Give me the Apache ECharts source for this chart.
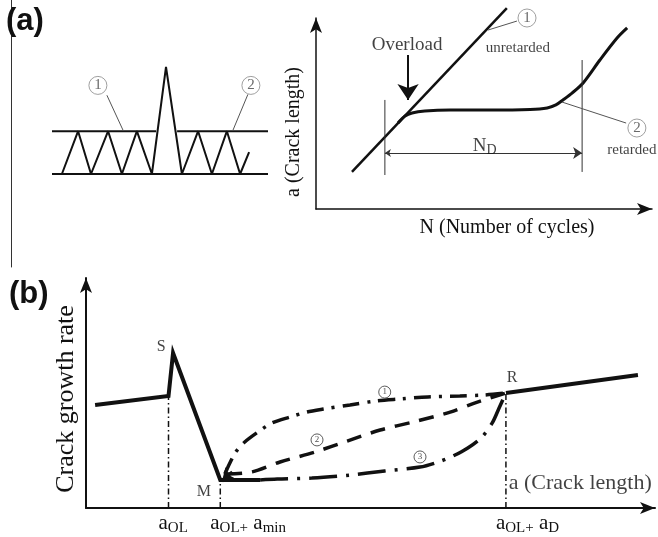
<!DOCTYPE html>
<html><head><meta charset="utf-8">
<script src="https://cdn.jsdelivr.net/npm/echarts@6/dist/echarts.min.js"></script>
<style>html,body{margin:0;padding:0;background:#fff}#c{width:658px;height:537px}</style>
</head><body><div id="c"></div>
<script>
// ================= DATA =================
// Panel (a) left: load sequence with a single overload (time in cycles, load level)
const loadTime  = [0.33, 0.87, 1.30, 1.87, 2.33, 2.83, 3.33, 3.80, 4.33, 4.87, 5.33, 5.83, 6.27, 6.57];
const loadLevel = [0,    1,    0,    1,    0,    1,    0,    2.5,  0,    1,    0,    1,    0,    0.51];
const loadSpan = [0, 7.2];
const upperLevelGap = [3.47, 4.17];   // upper reference line interrupted by overload spike

// Panel (a) right: crack length a vs N
const unretN = [1.07, 5.68];
const unretA = [1.94, 10.52];
const retN = [2.44, 2.65, 2.86, 3.24, 3.99, 5.18, 6.37, 6.88, 7.14, 7.35, 7.62, 7.95, 8.45, 8.96, 9.26];
const retA = [4.50, 4.87, 5.03, 5.13, 5.18, 5.18, 5.21, 5.29, 5.45, 5.71, 6.07, 6.60, 7.80, 8.95, 9.48];
const ndStartN = 2.05, ndEndN = 7.92, ndLevel = 2.93;
const ndMarkStart = [1.78, 5.71], ndMarkEnd = [1.94, 7.80];
const overloadN = 2.74, overloadFrom = 8.06, overloadTo = 5.71;

// Panel (b): crack growth rate vs crack length
const aOL = 1.45, aMin = 2.36, aD = 7.38;
const preX  = [0.16, aOL, 1.53, aMin, 3.06];
const preY  = [4.48, 4.87, 6.74, 1.22, 1.22];
const postX = [aD, 9.70];
const postY = [5.00, 5.78];
const c1X = [2.44, 2.62, 2.79, 3.02, 3.27, 3.59, 3.88, 4.17, 4.64, 5.08, 5.52, 6.01, 6.57, 6.98, aD];
const c1Y = [1.48, 2.39, 2.87, 3.30, 3.70, 3.96, 4.17, 4.30, 4.48, 4.65, 4.74, 4.83, 4.87, 4.91, 5.00];
const c2X = [2.48, 2.92, 3.41, 4.02, 4.59, 5.17, 5.75, 6.40, 6.84, aD];
const c2Y = [1.48, 1.57, 2.00, 2.43, 2.91, 3.39, 3.74, 4.17, 4.57, 5.00];
const c3X = [3.06, 3.36, 3.97, 4.64, 5.25, 5.87, 6.19, 6.45, 6.71, 6.96, 7.14, 7.26, aD];
const c3Y = [1.22, 1.26, 1.30, 1.43, 1.61, 1.78, 2.00, 2.26, 2.61, 3.09, 3.70, 4.35, 5.00];
const xTickValues = [aOL, aMin, aD];
const xTickLabels = ['a_OL', 'a_OL+ a_min', 'a_OL+ a_D'];

// ================= CHART =================
const SERIF = 'Liberation Serif';
const BLACK = '#111';
const chart = echarts.init(document.getElementById('c'));

function pts(xs, ys) { return xs.map((x, i) => [x, ys[i]]); }
function lineS(gi, data, style, extra) {
  return Object.assign({
    type: 'line', xAxisIndex: gi, yAxisIndex: gi, data: data, symbol: 'none',
    clip: false, silent: true, animation: false,
    lineStyle: Object.assign({ color: BLACK, width: 2, cap: 'butt' }, style)
  }, extra || {});
}
function arrowS(gi, from, to, style, symbol, size) {
  return {
    type: 'lines', coordinateSystem: 'cartesian2d', xAxisIndex: gi, yAxisIndex: gi,
    silent: true, animation: false, symbol: symbol, symbolSize: size,
    lineStyle: Object.assign({ color: BLACK, width: 1, opacity: 1 }, style),
    data: [{ coords: [from, to] }]
  };
}
function textS(gi, items, style) {
  return {
    type: 'scatter', xAxisIndex: gi, yAxisIndex: gi, silent: true, animation: false, clip: false,
    symbol: 'circle', symbolSize: 1, itemStyle: { color: 'rgba(0,0,0,0)' },
    label: Object.assign({ show: true, position: 'inside', color: BLACK, fontFamily: SERIF, fontSize: 15 }, style),
    data: items.map(it => ({ value: [it[0], it[1]], label: { formatter: it[2] } }))
  };
}
function circleS(gi, items, size, fs, border, color) {
  return {
    type: 'scatter', xAxisIndex: gi, yAxisIndex: gi, silent: true, animation: false, clip: false,
    symbol: 'circle', symbolSize: size, z: 5,
    itemStyle: { color: '#fff', borderColor: border, borderWidth: 1 },
    label: { show: true, position: 'inside', color: color, fontFamily: SERIF, fontSize: fs },
    data: items.map(it => ({ value: [it[0], it[1]], label: { formatter: it[2] } }))
  };
}
function tickRich(s) {
  return s.split(' ').map(part => {
    const [base, sub] = part.split('_');
    return base + (sub ? '{s|' + sub + '}' : '');
  }).join(' ');
}
const arrowAxis = (name) => ({
  show: true, symbol: ['none', 'arrow'], symbolSize: [9, 15],
  lineStyle: { color: BLACK, width: name === 'b' ? 2 : 1.5 }
});

const series = [
  // --- (a) left ---
  lineS(1, pts(loadTime, loadLevel), { width: 2 }),
  lineS(1, [[loadSpan[0], 1], [upperLevelGap[0], 1]], { width: 2 }),
  lineS(1, [[upperLevelGap[1], 1], [loadSpan[1], 1]], { width: 2 }),
  lineS(1, [[loadSpan[0], 0], [loadSpan[1], 0]], { width: 2 }),
  lineS(1, [[1.83, 1.84], [2.37, 1.02]], { width: 1, color: '#555' }),
  lineS(1, [[6.53, 1.86], [6.03, 1.02]], { width: 1, color: '#555' }),
  circleS(1, [[1.53, 2.07, '1'], [6.63, 2.07, '2']], 18, 15, '#888', '#444'),

  // --- (a) right ---
  lineS(2, pts(unretN, unretA), { width: 2.5 }),
  lineS(2, pts(retN, retA), { width: 3 }, { smooth: 0.3 }),
  lineS(2, [[ndStartN, ndMarkStart[0]], [ndStartN, ndMarkStart[1]]], { width: 1, color: '#333' }),
  lineS(2, [[ndEndN, ndMarkEnd[0]], [ndEndN, ndMarkEnd[1]]], { width: 1, color: '#333' }),
  arrowS(2, [ndStartN, ndLevel], [ndEndN, ndLevel], { width: 1, color: '#333' }, ['arrow', 'arrow'], [6, 9]),
  arrowS(2, [overloadN, overloadFrom], [overloadN, overloadTo], { width: 2 }, ['none', 'arrow'], [11, 16]),
  lineS(2, [[5.12, 9.37], [5.98, 9.84]], { width: 1, color: '#555' }),
  lineS(2, [[7.32, 5.60], [9.23, 4.50]], { width: 1, color: '#555' }),
  circleS(2, [[6.28, 10.0, '1'], [9.55, 4.24, '2']], 18, 15, '#888', '#444'),
  textS(2, [[2.71, 8.59, 'Overload']], { fontSize: 19 }),
  textS(2, [[6.01, 8.43, 'unretarded'], [9.40, 3.09, 'retarded']], { fontSize: 15 }),
  textS(2, [[5.02, 3.30, 'N{s|D}']], { fontSize: 19, rich: { s: { fontSize: 14, fontFamily: SERIF, padding: [9, 0, 0, 0] } } }),

  // --- (b) ---
  lineS(3, [[aOL, 0], [aOL, 4.87]], { width: 1.5, type: [6, 3, 1.5, 3] }),
  lineS(3, [[aMin, 0], [aMin, 1.22]], { width: 1.5, type: [6, 3, 1.5, 3] }),
  lineS(3, [[aD, 0], [aD, 5.0]], { width: 1.5, type: [6, 3, 1.5, 3] }),
  lineS(3, pts(preX, preY), { width: 4, join: 'miter' }),
  lineS(3, pts(postX, postY), { width: 4 }),
  lineS(3, pts(c1X, c1Y), { width: 3.5, type: [17, 8, 3, 8] }, { smooth: 0.3 }),
  lineS(3, pts(c2X, c2Y), { width: 3.5, type: [15, 10] }, { smooth: 0.3 }),
  lineS(3, pts(c3X, c3Y), { width: 3.5, type: [28, 9, 3, 9] }, { smooth: 0.3 }),
  arrowS(3, [2.57, 1.57], [2.39, 1.17], { width: 3 }, ['none', 'arrow'], [10, 12]),
  textS(3, [[1.32, 7.0, 'S'], [2.07, 0.70, 'M'], [7.49, 5.65, 'R']], { fontSize: 16 }),
  textS(3, [[7.43, 1.09, 'a (Crack length)']], { fontSize: 22, align: 'left' }),
  circleS(3, [[5.25, 5.04, '1'], [4.06, 2.96, '2'], [5.87, 2.22, '3']], 12, 9, '#333', '#222')
];

const option = {
  animation: false,
  backgroundColor: '#fff',
  title: [
    { text: '(a)', left: 1, top: 1, textStyle: { fontSize: 31, fontWeight: 'bold', fontFamily: 'Liberation Sans', color: BLACK } },
    { text: '(b)', left: 4, top: 274, textStyle: { fontSize: 31, fontWeight: 'bold', fontFamily: 'Liberation Sans', color: BLACK } }
  ],
  grid: [
    { left: 11, top: 0, width: 1, height: 267 },
    { left: 52, top: 67, width: 216, height: 107 },
    { left: 316, top: 18, width: 336, height: 191 },
    { left: 86, top: 278, width: 569, height: 230 }
  ],
  xAxis: [
    { gridIndex: 0, type: 'value', show: false, min: 0, max: 1 },
    { gridIndex: 1, type: 'value', show: false, min: 0, max: 7.2 },
    { gridIndex: 2, type: 'value', min: 0, max: 10, axisLine: arrowAxis('a'),
      axisTick: { show: false }, axisLabel: { show: false }, splitLine: { show: false },
      name: 'N (Number of cycles)', nameLocation: 'middle', nameGap: 9,
      nameTextStyle: { fontFamily: SERIF, fontSize: 20, color: BLACK, padding: [0, 0, 0, 46] } },
    { gridIndex: 3, type: 'value', min: 0, max: 10, axisLine: arrowAxis('b'),
      axisTick: { show: false }, splitLine: { show: false },
      axisLabel: { show: true, customValues: xTickValues, margin: 3, align: 'left',
        padding: [0, 0, 0, -10], color: BLACK, fontFamily: SERIF, fontSize: 21,
        formatter: (v) => { const i = xTickValues.findIndex(t => Math.abs(t - v) < 1e-6); return i >= 0 ? tickRich(xTickLabels[i]) : ''; },
        rich: { s: { fontSize: 15, fontFamily: SERIF, color: BLACK, padding: [10, 0, 0, 0] } } } }
  ],
  yAxis: [
    { gridIndex: 0, type: 'value', min: 0, max: 1, axisLine: { show: true, lineStyle: { color: '#333', width: 1 } },
      axisTick: { show: false }, axisLabel: { show: false }, splitLine: { show: false } },
    { gridIndex: 1, type: 'value', show: false, min: 0, max: 2.5 },
    { gridIndex: 2, type: 'value', min: 0, max: 10, axisLine: arrowAxis('a'),
      axisTick: { show: false }, axisLabel: { show: false }, splitLine: { show: false },
      name: 'a (Crack length)', nameLocation: 'middle', nameGap: 12, nameRotate: 90,
      nameTextStyle: { fontFamily: SERIF, fontSize: 20, color: BLACK, padding: [0, 37, 0, 0] } },
    { gridIndex: 3, type: 'value', min: 0, max: 10, axisLine: arrowAxis('b'),
      axisTick: { show: false }, axisLabel: { show: false }, splitLine: { show: false },
      name: 'Crack growth rate', nameLocation: 'middle', nameGap: 7, nameRotate: 90,
      nameTextStyle: { fontFamily: SERIF, fontSize: 26, color: BLACK, padding: [0, 12, 0, 0] } }
  ],
  series: series
};
chart.setOption(option);
</script>
</body></html>
